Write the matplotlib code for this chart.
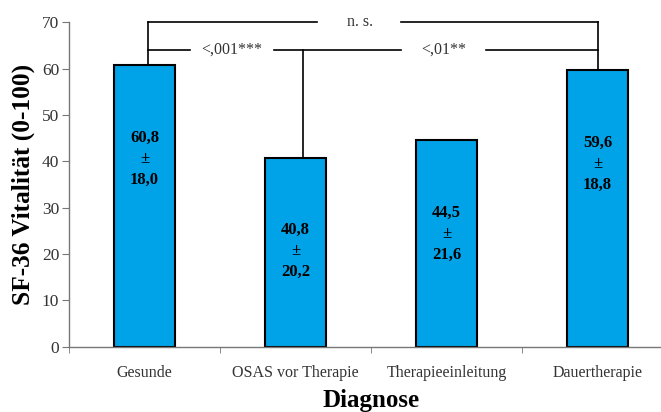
import matplotlib.pyplot as plt
import numpy as np

# SF-36 vitality scores per diagnosis group
categories = ["Gesunde", "OSAS vor Therapie", "Therapieeinleitung", "Dauertherapie"]
means = [60.8, 40.8, 44.5, 59.6]
sds = [18.0, 20.2, 21.6, 18.8]
yticks = [0, 10, 20, 30, 40, 50, 60, 70]


def fmt(v):
    return f"{v:.1f}".replace(".", ",")


plt.rcParams['font.family'] = ['Liberation Serif', 'DejaVu Serif']

fig = plt.figure(figsize=(6.61, 4.12), dpi=100)
ax = fig.add_axes([69 / 661, 65.3 / 412, 604 / 661, 324.4 / 412])

x = np.arange(len(categories))
bars = ax.bar(x, means, width=0.4, color='#00a2e8', edgecolor='black', linewidth=1.5)

# mean +- sd inside each bar
for bar, m, s in zip(bars, means, sds):
    cx = bar.get_x() + bar.get_width() / 2
    ax.text(cx, m - 20.2, f"{fmt(m)}\n±\n{fmt(s)}", ha='center', va='center',
            fontsize=12, fontweight='bold', linespacing=1.42)

ax.set_xlim(-0.5, 3.5)
ax.set_ylim(0, 70)
ax.set_yticks(yticks)
ax.set_xticks(x)
ax.set_xticklabels(categories, fontsize=11.5)
ax.set_xticks([-0.5, 0.5, 1.5, 2.5, 3.5], minor=True)
ax.tick_params(axis='x', which='major', length=0, pad=13, colors='#333333')
ax.tick_params(axis='x', which='minor', length=4, color='#777777')
ax.tick_params(axis='y', length=5, color='#777777', labelsize=12.5, labelcolor='#333333', pad=2)

for side in ['top', 'right']:
    ax.spines[side].set_visible(False)
for side in ['left', 'bottom']:
    ax.spines[side].set_color('#777777')
    ax.spines[side].set_linewidth(1.0)

ax.set_ylabel("SF-36 Vitalität (0-100)", fontsize=18.3, fontweight='bold', labelpad=5)
ax.set_xlabel("Diagnose", fontsize=18, fontweight='bold', labelpad=6)

# significance brackets
lk = dict(color='black', linewidth=1.2, clip_on=False)
x_g, x_o, x_d = 0.02, 1.05, 3.0
# n. s.: Gesunde vs Dauertherapie
ax.plot([x_g, x_g], [means[0], 70], **lk)
ax.plot([x_g, 1.14], [70, 70], **lk)
ax.plot([1.70, x_d], [70, 70], **lk)
ax.plot([x_d, x_d], [means[3], 70], **lk)
ax.text(1.43, 70, "n. s.", ha='center', va='center', fontsize=11.5, color='#333333')
# Gesunde vs OSAS vor Therapie
ax.plot([x_g, 0.30], [64, 64], **lk)
ax.plot([0.86, 1.70], [64, 64], **lk)
ax.plot([x_o, x_o], [means[1], 64], **lk)
ax.text(0.58, 64, "<,001***", ha='center', va='center', fontsize=11.5, color='#333333')
# OSAS vor Therapie vs Dauertherapie
ax.plot([2.26, x_d], [64, 64], **lk)
ax.text(1.98, 64, "<,01**", ha='center', va='center', fontsize=11.5, color='#333333')

fig.savefig("out.png", dpi=100)
